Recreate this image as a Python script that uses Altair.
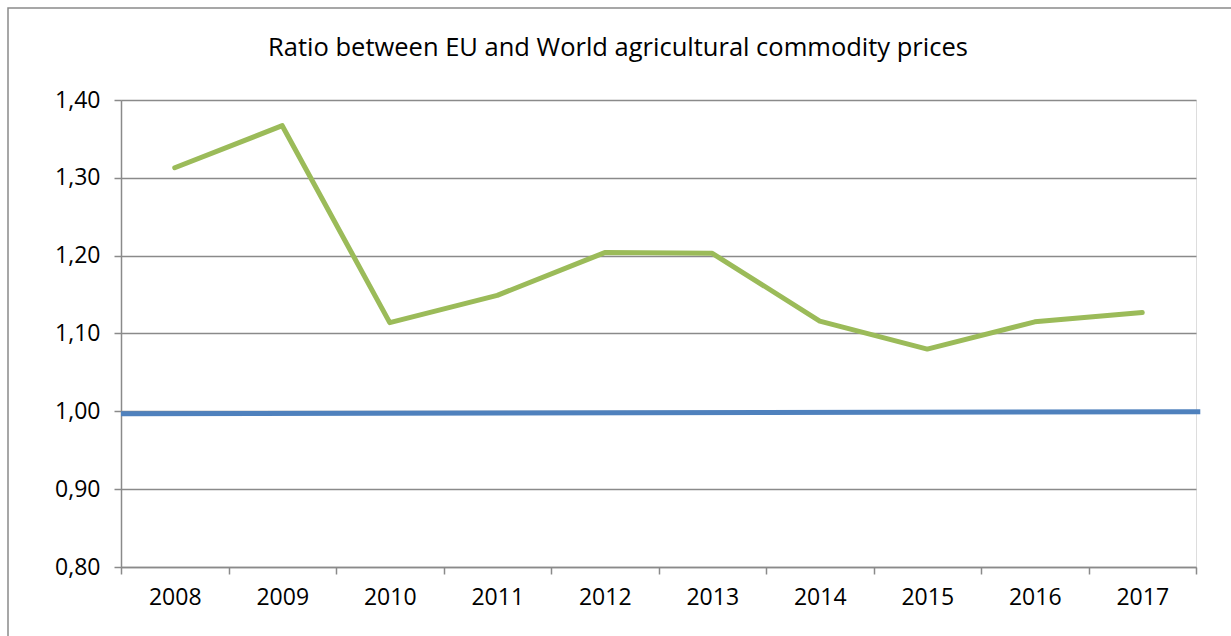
import altair as alt
import pandas as pd

title_text = "Ratio between EU and World agricultural commodity prices"
years = ["2008", "2009", "2010", "2011", "2012", "2013", "2014", "2015", "2016", "2017"]
ratio_values = [1.313, 1.367, 1.114, 1.149, 1.204, 1.203, 1.116, 1.080, 1.115, 1.127]
ref_pos = [0.0, 1.004]
ref_values = [0.997, 0.9995]
y_ticks = [0.8, 0.9, 1.0, 1.1, 1.2, 1.3, 1.4]

FONT = "Open Sans"
GRAY = "#8a8a8a"

df = pd.DataFrame({"year": years, "ratio": ratio_values})
ref = pd.DataFrame({"pos": ref_pos, "ratio": ref_values})

yscale = alt.Scale(domain=[0.8, 1.4], nice=False, zero=False)
yaxis = alt.Axis(
    title=None, values=y_ticks, grid=True, gridColor=GRAY, gridWidth=1.5,
    domainColor=GRAY, domainWidth=1.5, tickColor=GRAY, tickWidth=1.5,
    tickSize=7, labelPadding=14, labelFontSize=23, labelFont=FONT,
    labelColor="black",
    labelExpr="replace(format(datum.value, '.2f'), '.', ',')",
)

frame = alt.Chart(pd.DataFrame({"a": [0]})).mark_rect(
    fill="white", fillOpacity=0, stroke=GRAY, strokeWidth=1.5, clip=False
).encode(
    x=alt.value(-113), x2=alt.value(1140), y=alt.value(-92), y2=alt.value(560)
)

green = alt.Chart(df).mark_line(
    color="#9BBB59", strokeWidth=5, strokeCap="round", strokeJoin="round"
).encode(
    x=alt.X(
        "year:O",
        bandPosition=0.5,
        scale=alt.Scale(type="band", paddingInner=0, paddingOuter=0),
        axis=alt.Axis(
            title=None, labelAngle=0, tickBand="extent", grid=False,
            domainColor=GRAY, domainWidth=1.5, tickColor=GRAY, tickWidth=1.5,
            tickSize=7, labelPadding=12, labelFontSize=23, labelFont=FONT,
            labelColor="black",
        ),
    ),
    y=alt.Y("ratio:Q", scale=yscale, axis=yaxis),
)

blue = alt.Chart(ref).mark_line(
    color="#4F81BD", strokeWidth=5, strokeCap="butt", clip=False
).encode(
    x=alt.X("pos:Q", scale=alt.Scale(domain=[0, 1], nice=False, zero=False), axis=None),
    y=alt.Y("ratio:Q", scale=yscale, axis=yaxis),
)

title = alt.Chart(pd.DataFrame({"t": [title_text]})).mark_text(
    font=FONT, fontSize=25.5, color="black", align="center", baseline="middle"
).encode(
    text="t:N", x=alt.value(497), y=alt.value(-52)
)

chart = alt.layer(frame, green, blue, title).resolve_scale(x="independent").properties(
    width=1075, height=467,
    autosize=alt.AutoSizeParams(type="none"),
    padding={"left": 121, "top": 100, "right": 35, "bottom": 69},
).configure_view(stroke="transparent", strokeWidth=0).configure(background="white")

chart.save("out.html", embed_options={"renderer": "svg", "actions": False})
